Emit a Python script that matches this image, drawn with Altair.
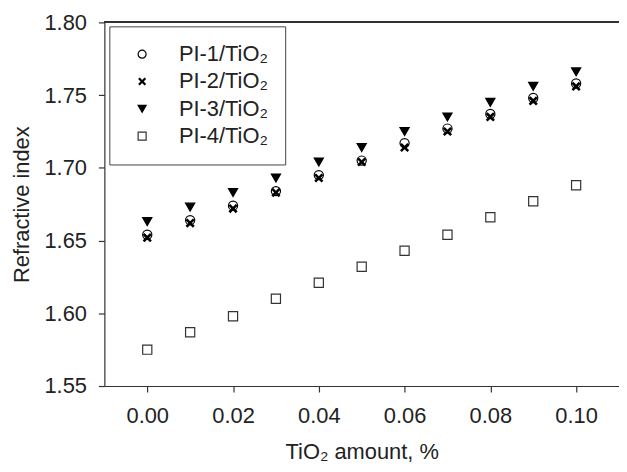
import altair as alt
import pandas as pd

tio2 = [0.00, 0.01, 0.02, 0.03, 0.04, 0.05, 0.06, 0.07, 0.08, 0.09, 0.10]
pi1 = [1.654, 1.664, 1.674, 1.684, 1.695, 1.705, 1.717, 1.727, 1.737, 1.748, 1.758]
pi2 = [1.652, 1.662, 1.672, 1.683, 1.693, 1.704, 1.714, 1.725, 1.735, 1.746, 1.756]
pi3 = [1.663, 1.673, 1.683, 1.693, 1.704, 1.714, 1.725, 1.735, 1.745, 1.756, 1.766]
pi4 = [1.575, 1.587, 1.598, 1.610, 1.621, 1.632, 1.643, 1.654, 1.666, 1.677, 1.688]
series = ["PI-1/TiO₂", "PI-2/TiO₂", "PI-3/TiO₂", "PI-4/TiO₂"]
x_ticks = [0.00, 0.02, 0.04, 0.06, 0.08, 0.10]
y_ticks = [1.55, 1.60, 1.65, 1.70, 1.75, 1.80]

rows = []
for name, vals in zip(series, [pi1, pi2, pi3, pi4]):
    for x, v in zip(tio2, vals):
        rows.append({"x": x, "y": v, "series": name})
df = pd.DataFrame(rows)

FONT = "Liberation Sans"
xpath = ("M-0.6,1L0,0.4L0.6,1L1,0.6L0.4,0L1,-0.6L0.6,-1L0,-0.4"
         "L-0.6,-1L-1,-0.6L-0.4,0L-1,0.6Z")

points = alt.Chart(df).mark_point(size=85, opacity=1, strokeWidth=1.2).encode(
    x=alt.X("x:Q", scale=alt.Scale(domain=[-0.01, 0.11], nice=False, zero=False),
            axis=alt.Axis(values=x_ticks, format=".2f", title="TiO₂ amount, %")),
    y=alt.Y("y:Q", scale=alt.Scale(domain=[1.55, 1.80], nice=False, zero=False),
            axis=alt.Axis(values=y_ticks, format=".2f", title="Refractive index")),
    shape=alt.Shape("series:N", scale=alt.Scale(domain=series,
                    range=["circle", xpath, "triangle-down", "square"]),
                    legend=alt.Legend(title=None)),
    fill=alt.Fill("series:N", scale=alt.Scale(domain=series,
                  range=["white", "black", "black", "white"]),
                  legend=alt.Legend(title=None)),
    stroke=alt.Stroke("series:N", scale=alt.Scale(domain=series,
                      range=["black", "transparent", "black", "#333333"]),
                      legend=alt.Legend(title=None)),
)

top = alt.Chart(df).mark_rule(color="#333333", strokeWidth=1.2).encode(
    y=alt.datum(1.80)
)

chart = alt.layer(top, points).properties(
    width=518, height=366,
    autosize=alt.AutoSizeParams(type="none"),
    padding={"left": 97, "top": 13, "right": 0, "bottom": 77},
).configure_view(stroke=None).configure_axis(
    labelFont=FONT, titleFont=FONT, labelFontSize=22, titleFontSize=22,
    labelColor="#222222", titleColor="#222222", titleFontWeight="normal",
    domainColor="#333333", tickColor="#333333", tickSize=6, grid=False,
    domainWidth=1.2, tickWidth=1.2,
).configure_axisY(labelPadding=12, titlePadding=11).configure_axisX(
    labelPadding=14, titlePadding=15
).configure_legend(
    orient="none", legendX=5, legendY=4, strokeColor="#444444",
    fillColor="white", padding=17, labelFont=FONT, labelFontSize=22,
    labelColor="#222222", symbolOffset=5, labelOffset=26, rowPadding=5.5,
    labelLimit=300, symbolSize=65, symbolStrokeWidth=1.2,
)

chart.save("out.html", embed_options={"renderer": "svg", "actions": False})
